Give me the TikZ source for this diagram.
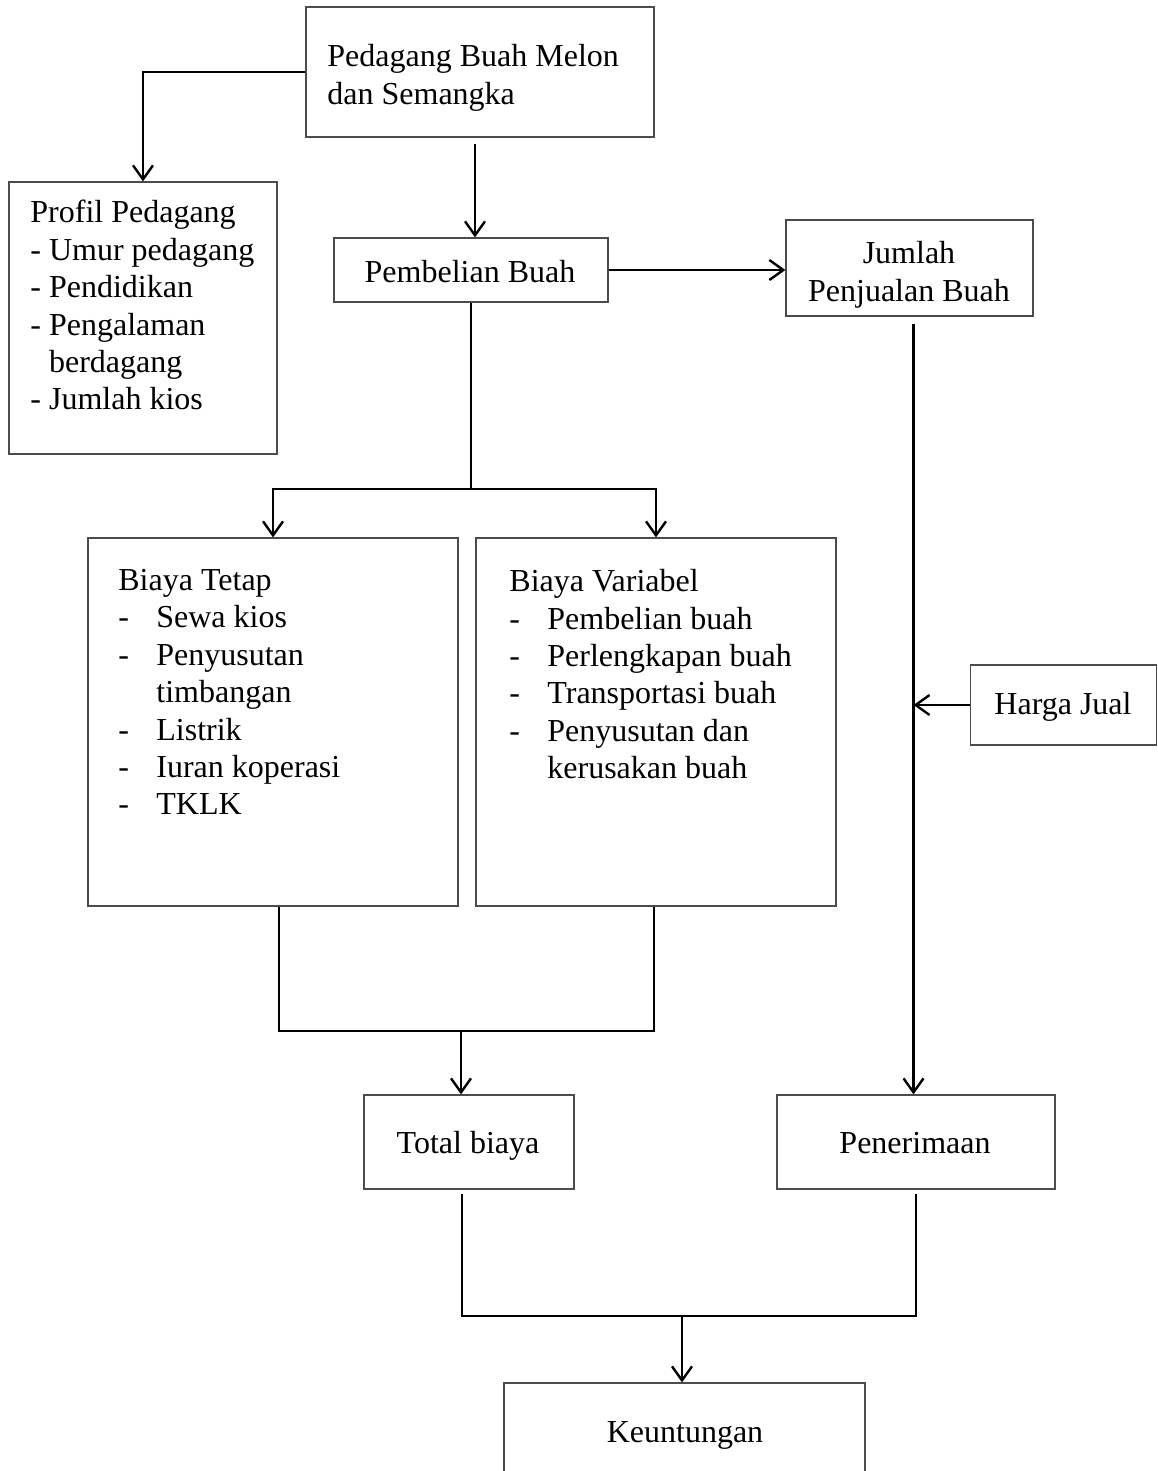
\documentclass[tikz,border=0pt]{standalone}
\usepackage{fontspec}
\setmainfont{Liberation Serif}
\usetikzlibrary{arrows.meta}
\newcommand\dashitem{\makebox[19pt][l]{-}}
\begin{document}
\begin{tikzpicture}[x=0.5pt,y=-0.5pt,
  box/.style={draw=black!70, line width=0.6pt, rectangle, inner sep=0pt},
  txt/.style={inner sep=0pt, font=\fontsize{16}{18.7}\selectfont, align=left},
  link/.style={line width=1.2pt},
  arr/.style={link, -{Straight Barb[length=7pt,width=10pt]}}
]
\useasboundingbox (0,0) rectangle (1157,1471);

% boxes
\node[box, minimum width=174pt, minimum height=65pt] (top) at (480,72) {};
\node[box, minimum width=134pt, minimum height=136pt] (prof) at (143,318) {};
\node[box, minimum width=137pt, minimum height=32pt] (beli) at (471,270) {};
\node[box, minimum width=123.5pt, minimum height=48pt] (jual) at (909.5,268) {};
\node[box, minimum width=185pt, minimum height=184pt] (tetap) at (273,722) {};
\node[box, minimum width=180pt, minimum height=184pt] (var) at (656,722) {};
\node[box, minimum width=93pt, minimum height=40pt] (harga) at (1063.5,705) {};
\node[box, minimum width=105pt, minimum height=47pt] (total) at (469,1142) {};
\node[box, minimum width=139pt, minimum height=47pt] (pen) at (916,1142) {};
\node[box, minimum width=180.5pt, minimum height=55pt] (keun) at (684.5,1438) {};

% texts
\node[txt, anchor=north west] (toptxt) at (327,44) {Pedagang Buah Melon\\dan Semangka};
\node[txt, anchor=north west] (proftxt) at (30,200) {Profil Pedagang\\- Umur pedagang\\- Pendidikan\\- Pengalaman\\\phantom{-}~berdagang\\- Jumlah kios};
\node[txt, anchor=base] (belitxt) at (470,282) {Pembelian Buah};
\node[txt, anchor=north, align=center] (jualtxt) at (909,241) {Jumlah\\Penjualan Buah};
\node[txt, anchor=north west] (tetaptxt) at (118,569) {Biaya Tetap\\\dashitem Sewa kios\\\dashitem Penyusutan\\\hspace*{19pt}timbangan\\\dashitem Listrik\\\dashitem Iuran koperasi\\\dashitem TKLK};
\node[txt, anchor=north west] (vartxt) at (509,569) {Biaya Variabel\\\dashitem Pembelian buah\\\dashitem Perlengkapan buah\\\dashitem Transportasi buah\\\dashitem Penyusutan dan\\\hspace*{19pt}kerusakan buah};
\node[txt, anchor=base] (hargatxt) at (1063,714) {Harga Jual};
\node[txt, anchor=base] (totaltxt) at (468,1153) {Total biaya};
\node[txt, anchor=base] (pentxt) at (915,1153) {Penerimaan};
\node[txt, anchor=base] (keuntxt) at (685,1442) {Keuntungan};

% connectors
\draw[arr] (top.west) -| (prof.north);
\coordinate (a1) at ([xshift=2pt,yshift=-3pt]top.south -| beli.north);
\draw[arr] (a1) -- (a1 |- beli.north);
\draw[arr] (beli.east) -- (beli.east -| jual.west);

\coordinate (s1) at (471,489);
\draw[link] (beli.south) -- (s1);
\draw[arr] (s1) -| (tetap.north);
\draw[arr] (s1) -| (var.north);

\coordinate (a2) at ([xshift=2pt,yshift=-3.5pt]jual.south);
\draw[arr] (a2) -- (a2 |- pen.north);
\draw[arr] (harga.west) -- (harga.west -| a2);

\coordinate (j1) at (461,1031);
\coordinate (tb) at ([xshift=3pt]tetap.south);
\coordinate (vb) at ([xshift=-1pt]var.south);
\draw[link] (tb) |- (j1) -| (vb);
\draw[arr] (j1) -- (j1 |- total.north);

\coordinate (j2) at (682,1316);
\coordinate (t1) at ([xshift=-3.5pt,yshift=-2pt]total.south);
\coordinate (p1) at ([yshift=-2pt]pen.south);
\draw[link] (t1) |- (j2) -| (p1);
\draw[arr] (j2) -- (j2 |- keun.north);
\end{tikzpicture}
\end{document}
